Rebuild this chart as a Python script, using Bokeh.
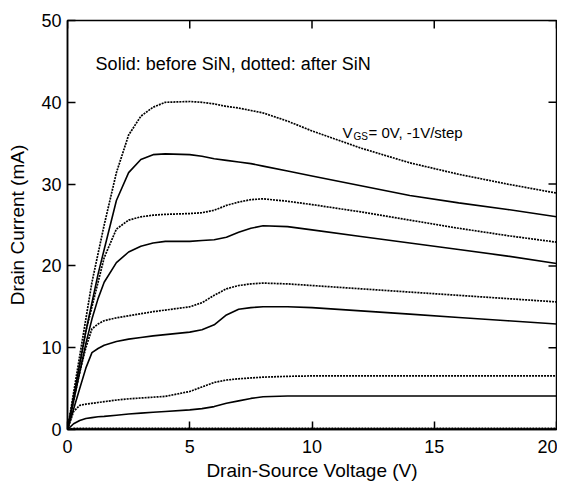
import math
from bokeh.plotting import figure
from bokeh.models import Label, FixedTicker, Range1d
from bokeh.embed import file_html
from bokeh.resources import INLINE

# Drain-source voltage samples (V)
vds = [0, 0.25, 0.5, 0.75, 1.0, 1.25, 1.5, 2.0, 2.5, 3.0, 3.5, 4.0, 5.0, 5.5,
       6.0, 6.5, 7.0, 7.5, 8.0, 9.0, 10.0, 12.0, 14.0, 16.0, 18.0, 20.0]

# Before SiN (solid), VGS = 0, -1, -2, -3, -4 V  (mA)
before_0 = [0, 4.0, 8.0, 12.0, 15.5, 19.0, 22.0, 28.0, 31.4, 33.0, 33.6, 33.7, 33.6, 33.4,
            33.1, 32.9, 32.7, 32.5, 32.2, 31.6, 31.0, 29.8, 28.6, 27.7, 26.9, 26.0]
before_1 = [0, 3.5, 7.0, 10.5, 13.5, 16.0, 18.0, 20.4, 21.7, 22.4, 22.8, 23.0, 23.0, 23.1,
            23.2, 23.5, 24.1, 24.6, 24.9, 24.8, 24.4, 23.6, 22.8, 22.0, 21.2, 20.3]
before_2 = [0, 2.5, 5.0, 7.5, 9.4, 9.9, 10.3, 10.75, 11.05, 11.25, 11.45, 11.6, 11.9, 12.2,
            12.8, 14.0, 14.7, 14.9, 15.0, 15.0, 14.9, 14.5, 14.1, 13.7, 13.3, 12.9]
before_3 = [0, 0.7, 1.1, 1.35, 1.45, 1.55, 1.6, 1.75, 1.9, 2.0, 2.1, 2.2, 2.4, 2.55,
            2.8, 3.2, 3.5, 3.8, 4.0, 4.1, 4.1, 4.1, 4.1, 4.1, 4.1, 4.1]
before_4 = [0, 0.05, 0.05, 0.05, 0.05, 0.05, 0.05, 0.05, 0.05, 0.05, 0.05, 0.05, 0.05, 0.05,
            0.05, 0.05, 0.05, 0.05, 0.05, 0.05, 0.05, 0.05, 0.05, 0.05, 0.05, 0.05]

# After SiN (dotted), VGS = 0, -1, -2, -3, -4 V  (mA)
after_0 = [0, 4.5, 9.0, 13.5, 18.0, 21.5, 25.0, 31.4, 36.0, 38.3, 39.4, 40.0, 40.1, 40.0,
           39.8, 39.5, 39.3, 39.0, 38.7, 37.7, 36.5, 34.4, 32.6, 31.2, 30.0, 28.9]
after_1 = [0, 4.0, 8.0, 12.0, 15.0, 18.0, 21.0, 24.5, 25.6, 26.0, 26.2, 26.3, 26.4, 26.5,
           26.8, 27.4, 27.8, 28.1, 28.2, 27.9, 27.5, 26.6, 25.6, 24.6, 23.7, 22.9]
after_2 = [0, 3.5, 7.0, 10.0, 12.3, 12.9, 13.3, 13.65, 13.9, 14.15, 14.4, 14.6, 15.0, 15.5,
           16.4, 17.2, 17.6, 17.8, 17.9, 17.8, 17.6, 17.2, 16.8, 16.4, 16.0, 15.6]
after_3 = [0, 2.2, 2.95, 3.1, 3.2, 3.3, 3.4, 3.6, 3.75, 3.85, 3.95, 4.05, 4.65, 5.2,
           5.75, 6.05, 6.2, 6.3, 6.4, 6.5, 6.55, 6.55, 6.55, 6.55, 6.55, 6.55]
after_4 = [0, 0.15, 0.15, 0.15, 0.15, 0.15, 0.15, 0.15, 0.15, 0.15, 0.15, 0.15, 0.15, 0.15,
           0.15, 0.15, 0.15, 0.15, 0.15, 0.15, 0.15, 0.15, 0.15, 0.15, 0.15, 0.15]

x_ticks = [0, 5, 10, 15, 20]
y_ticks = [0, 10, 20, 30, 40, 50]

FONT = "Liberation Sans"
X0, X1, Y0, Y1 = 0, 20, 0, 50

p = figure(frame_width=489, frame_height=409, output_backend="svg", toolbar_location=None,
           x_range=Range1d(X0, X1), y_range=Range1d(Y0, Y1),
           min_border_left=67, min_border_right=1, min_border_top=20, min_border_bottom=40)
p.grid.visible = False
p.background_fill_color = "white"
p.border_fill_color = "white"
p.outline_line_color = "black"
p.outline_line_width = 1.5

for ax in (p.xaxis[0], p.yaxis[0]):
    ax.major_tick_in = 8
    ax.major_tick_out = 0
    ax.minor_tick_in = 0
    ax.minor_tick_out = 0
    ax.axis_line_width = 1.5
    ax.major_tick_line_width = 1.5
    ax.major_label_text_font = FONT
    ax.major_label_text_font_size = "18px"
    ax.major_label_text_color = "black"
    ax.axis_label_text_font = FONT
    ax.axis_label_text_font_size = "19px"
    ax.axis_label_text_font_style = "normal"
    ax.axis_label_text_color = "black"

p.xaxis.ticker = FixedTicker(ticks=x_ticks)
p.yaxis.ticker = FixedTicker(ticks=y_ticks)
p.xaxis.axis_label = "Drain-Source Voltage (V)"
p.yaxis.axis_label = "Drain Current (mA)"
p.xaxis.major_label_standoff = 10
p.xaxis.axis_label_standoff = 4
p.yaxis.major_label_standoff = 6
p.yaxis.axis_label_standoff = 10

# inward tick marks on the top and right edges of the frame
p.ray(x=x_ticks, y=[Y1] * len(x_ticks), length=8, length_units="screen",
      angle=-math.pi / 2, line_color="black", line_width=1.5)
p.ray(x=[X1] * len(y_ticks), y=y_ticks, length=8, length_units="screen",
      angle=math.pi, line_color="black", line_width=1.5)

for ys in (before_0, before_1, before_2, before_3, before_4):
    p.line(vds, ys, line_color="black", line_width=1.6)
for ys in (after_0, after_1, after_2, after_3, after_4):
    p.line(vds, ys, line_color="black", line_width=1.7, line_dash="2 1")

p.add_layout(Label(x=1.15, y=44.7, text="Solid: before SiN, dotted: after SiN",
                   text_font=FONT, text_font_size="18px", text_baseline="middle",
                   text_color="black"))
p.add_layout(Label(x=11.25, y=36.35, text="V", text_font=FONT, text_font_size="15px",
                   text_baseline="alphabetic", text_color="black"))
p.add_layout(Label(x=11.25, y=36.35, x_offset=11, y_offset=-4, text="GS", text_font=FONT,
                   text_font_size="10px", text_baseline="alphabetic", text_color="black"))
p.add_layout(Label(x=11.25, y=36.35, x_offset=26, text="= 0V, -1V/step", text_font=FONT,
                   text_font_size="15px", text_baseline="alphabetic", text_color="black"))

open("out.html", "w").write(file_html(p, INLINE))
